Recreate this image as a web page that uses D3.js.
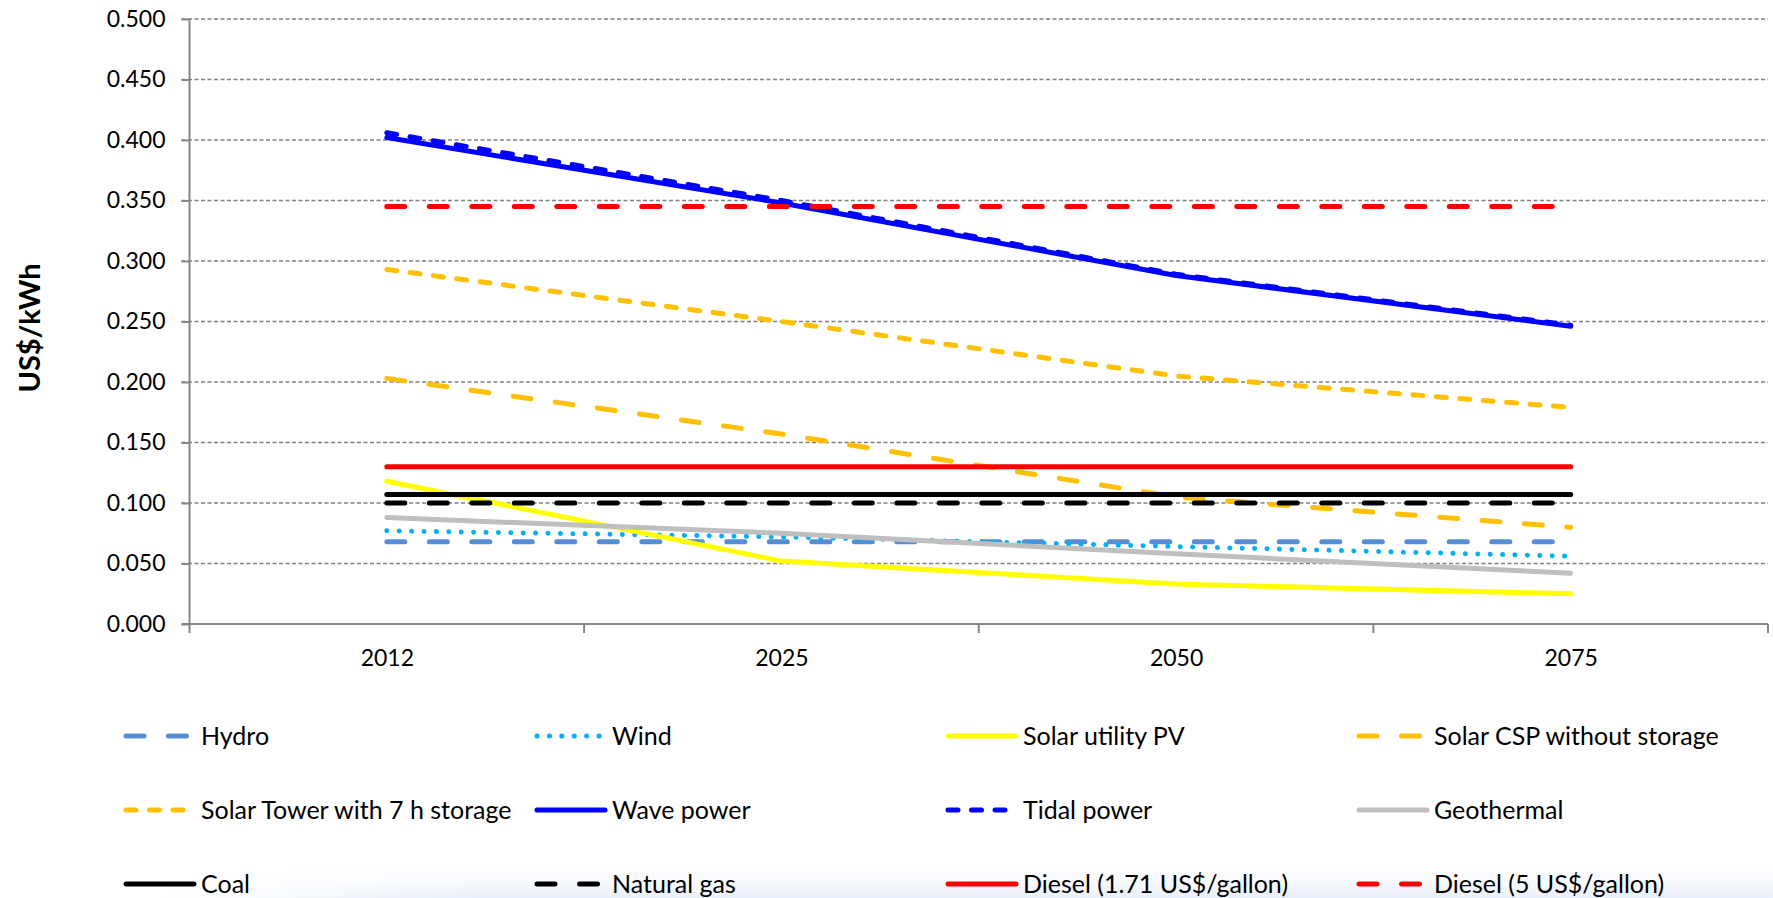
<!DOCTYPE html>
<html>
<head>
<meta charset="utf-8">
<script src="https://cdn.jsdelivr.net/npm/d3@7"></script>
<style>
  body { margin: 0; background: #fff; }
  svg { display: block; }
  text { font-family: Lato, "Open Sans", sans-serif; fill: #000; }
</style>
</head>
<body>
<svg id="chart" width="1773" height="898"></svg>
<script>
// categories and values (US$/kWh)
const years = ["2012", "2025", "2050", "2075"];
const hydro      = [0.068, 0.068, 0.068, 0.068];
const wind       = [0.077, 0.072, 0.064, 0.056];
const solarPV    = [0.118, 0.052, 0.033, 0.025];
const solarCSP   = [0.203, 0.157, 0.105, 0.080];
const solarTower = [0.293, 0.250, 0.205, 0.179];
const wave       = [0.402, 0.348, 0.288, 0.246];
const tidal      = [0.406, 0.350, 0.289, 0.247];
const geothermal = [0.088, 0.075, 0.058, 0.042];
const coal       = [0.107, 0.107, 0.107, 0.107];
const naturalGas = [0.100, 0.100, 0.100, 0.100];
const diesel171  = [0.130, 0.130, 0.130, 0.130];
const diesel5    = [0.345, 0.345, 0.345, 0.345];
const yTicks = [0, 0.05, 0.1, 0.15, 0.2, 0.25, 0.3, 0.35, 0.4, 0.45, 0.5];

// dash styles
const LONG = "18,24.5", SHORT = "10,13.5", DOT = "0.1,12.3", SOLID = null;

const series = [
  {name: "Hydro", values: hydro, color: "#558ED5", dash: LONG},
  {name: "Wind", values: wind, color: "#00B0F0", dash: DOT},
  {name: "Solar utility PV", values: solarPV, color: "#FFFF00", dash: SOLID},
  {name: "Solar CSP without storage", values: solarCSP, color: "#FFC000", dash: LONG},
  {name: "Solar Tower with 7 h storage", values: solarTower, color: "#FFC000", dash: SHORT},
  {name: "Wave power", values: wave, color: "#0000FF", dash: SOLID},
  {name: "Tidal power", values: tidal, color: "#0000FF", dash: SHORT},
  {name: "Geothermal", values: geothermal, color: "#BFBFBF", dash: SOLID},
  {name: "Coal", values: coal, color: "#000000", dash: SOLID},
  {name: "Natural gas", values: naturalGas, color: "#000000", dash: LONG},
  {name: "Diesel (1.71 US$/gallon)", values: diesel171, color: "#FF0000", dash: SOLID},
  {name: "Diesel (5 US$/gallon)", values: diesel5, color: "#FF0000", dash: LONG}
];

const svg = d3.select("#chart");
const plot = {left: 189.5, right: 1768, top: 19, bottom: 624};
const lineW = 5;

// faint blue wash at the bottom of the picture, fading in from the left
const defs = svg.append("defs");
const gradV = defs.append("linearGradient").attr("id", "washV")
  .attr("x1", 0).attr("y1", 0).attr("x2", 0).attr("y2", 1);
gradV.append("stop").attr("offset", "0%").attr("stop-color", "#fff").attr("stop-opacity", 0);
gradV.append("stop").attr("offset", "100%").attr("stop-color", "#E9F0FA").attr("stop-opacity", 1);
const gradH = defs.append("linearGradient").attr("id", "washH")
  .attr("x1", 0).attr("y1", 0).attr("x2", 1).attr("y2", 0);
gradH.append("stop").attr("offset", "0%").attr("stop-color", "#fff").attr("stop-opacity", 0);
gradH.append("stop").attr("offset", "20%").attr("stop-color", "#fff").attr("stop-opacity", 1);
const mask = defs.append("mask").attr("id", "washMask");
mask.append("rect").attr("x", 150).attr("y", 855).attr("width", 1623).attr("height", 43)
  .attr("fill", "url(#washH)");
svg.append("rect").attr("x", 150).attr("y", 855).attr("width", 1623).attr("height", 43)
  .attr("fill", "url(#washV)").attr("mask", "url(#washMask)");

const x = d3.scalePoint().domain(years).range([plot.left, plot.right]).padding(0.5);
const xEdge = d3.scaleLinear().domain([0, years.length]).range([plot.left, plot.right]);
const y = d3.scaleLinear().domain([0, 0.5]).range([plot.bottom, plot.top]);

// gridlines
svg.append("g")
  .selectAll("line")
  .data(yTicks.filter(d => d > 0))
  .join("line")
  .attr("x1", plot.left - 8).attr("x2", plot.right)
  .attr("y1", d => y(d)).attr("y2", d => y(d))
  .attr("stroke", "#808080").attr("stroke-width", 1.5)
  .attr("stroke-dasharray", "4,2.5");

// y axis
const yAxis = d3.axisLeft(y).tickValues(yTicks).tickFormat(d3.format(".3f"))
  .tickSize(8).tickPadding(16);
const gy = svg.append("g").attr("transform", "translate(" + plot.left + ",0)").call(yAxis);
gy.select(".domain").remove();
gy.selectAll(".tick line").attr("stroke", "#868686").attr("stroke-width", 2);
gy.selectAll(".tick text").attr("font-size", 23).style("font-family", "Lato, sans-serif");
svg.append("line")
  .attr("x1", plot.left).attr("x2", plot.left)
  .attr("y1", plot.top).attr("y2", plot.bottom + 9)
  .attr("stroke", "#868686").attr("stroke-width", 2);

// x axis: labels at category centres, ticks at category edges
const xAxis = d3.axisBottom(x).tickSize(0).tickPadding(26);
const gx = svg.append("g").attr("transform", "translate(0," + plot.bottom + ")").call(xAxis);
gx.select(".domain").remove();
gx.selectAll(".tick text").attr("font-size", 23).style("font-family", "Lato, sans-serif");
svg.append("line")
  .attr("x1", plot.left - 8).attr("x2", plot.right)
  .attr("y1", plot.bottom).attr("y2", plot.bottom)
  .attr("stroke", "#868686").attr("stroke-width", 2);
svg.append("g")
  .selectAll("line")
  .data(d3.range(1, years.length + 1))
  .join("line")
  .attr("x1", d => xEdge(d)).attr("x2", d => xEdge(d))
  .attr("y1", plot.bottom).attr("y2", plot.bottom + 9)
  .attr("stroke", "#868686").attr("stroke-width", 2);

// y axis title
svg.append("text")
  .attr("transform", "translate(40,328) rotate(-90)")
  .attr("text-anchor", "middle")
  .attr("font-size", 29).attr("font-weight", "bold")
  .text("US$/kWh");

// the lines
const line = d3.line()
  .x((d, i) => x(years[i]))
  .y(d => y(d));

svg.append("g")
  .selectAll("path")
  .data(series)
  .join("path")
  .attr("d", d => line(d.values))
  .attr("fill", "none")
  .attr("stroke", d => d.color)
  .attr("stroke-width", lineW)
  .attr("stroke-linecap", "round")
  .attr("stroke-linejoin", "round")
  .attr("stroke-dasharray", d => d.dash);

// legend, 4 columns x 3 rows
const legX = d3.scaleLinear().domain([0, 1]).range([124, 535]);
const legY = d3.scaleLinear().domain([0, 1]).range([736, 810]);
const leg = svg.append("g")
  .selectAll("g")
  .data(series)
  .join("g")
  .attr("transform", (d, i) => "translate(" + legX(i % 4) + "," + legY(Math.floor(i / 4)) + ")");
leg.append("line")
  .attr("x1", 2).attr("x2", 70).attr("y1", 0).attr("y2", 0)
  .attr("stroke", d => d.color)
  .attr("stroke-width", lineW)
  .attr("stroke-linecap", "round")
  .attr("stroke-dasharray", d => d.dash);
leg.append("text")
  .attr("x", 77).attr("y", 0).attr("dy", "0.35em")
  .attr("font-size", 25)
  .text(d => d.name);
</script>
</body>
</html>
